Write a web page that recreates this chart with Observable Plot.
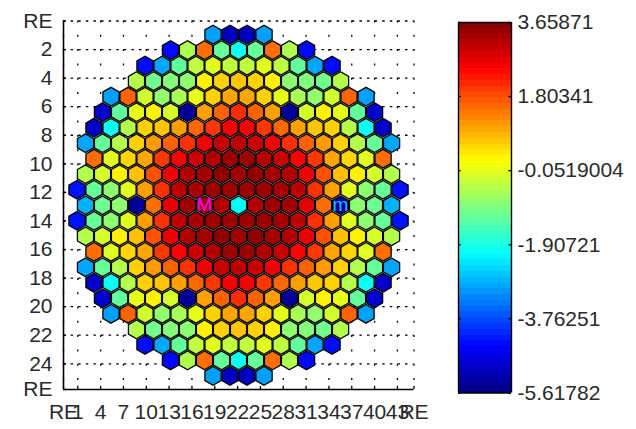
<!DOCTYPE html>
<html>
<head>
<meta charset="utf-8">
<script src="https://cdn.jsdelivr.net/npm/d3@7"></script>
<script src="https://cdn.jsdelivr.net/npm/@observablehq/plot@0.6"></script>
<style>
html,body{margin:0;padding:0;background:#fff;width:636px;height:429px;overflow:hidden}
#main,#bar{position:absolute;top:0}
#main{left:0}
#bar{left:440px}
svg{display:block}
</style>
</head>
<body>
<div id="main"></div>
<div id="bar"></div>
<script>
// Hexagon values, top row to bottom row, left to right
const row01 = [-3.0,-5.05,-5.05,-3.0];
const row02 = [-4.4,-0.55,1.5,-1.2,-2.0,-1.2,1.5,-0.55,-4.4];
const row03 = [-4.35,-2.95,-1.25,-0.4,-0.1,-0.4,-0.4,-0.1,-0.4,-1.25,-2.95,-4.35];
const row04 = [-0.5,-1.1,-0.95,-0.85,0.3,0.6,0.7,0.6,0.3,-0.85,-0.95,-1.1,-0.5];
const row05 = [-3.0,1.6,-0.25,-0.8,-0.6,-0.05,0.6,1.0,1.0,0.6,-0.05,-0.6,-0.8,-0.25,1.6,-3.0];
const row06 = [-4.9,-1.25,-0.05,0.3,-0.2,-5.4,1.05,1.6,2.1,1.6,1.05,-5.4,-0.2,0.3,-0.05,-1.25,-4.9];
const row07 = [-4.95,-2.05,-0.5,0.6,0.7,1.05,1.55,2.0,2.55,2.55,2.0,1.55,1.05,0.7,0.6,-0.5,-2.05,-4.95];
const row08 = [-2.95,-1.2,-0.5,0.6,1.1,1.6,2.05,2.6,3.0,3.1,3.0,2.6,2.05,1.6,1.1,0.6,-0.5,-1.2,-2.95];
const row09 = [1.5,-0.1,0.55,1.0,2.0,2.5,3.0,3.2,3.4,3.4,3.2,3.0,2.5,2.0,1.0,0.55,-0.1,1.5];
const row10 = [-0.5,-0.2,0.3,0.75,1.75,2.65,3.2,3.3,3.5,3.35,3.5,3.3,3.2,2.65,1.75,0.75,0.3,-0.2,-0.5];
const row11 = [-4.3,-1.2,-0.85,-0.1,1.05,2.05,3.1,3.3,3.4,3.4,3.4,3.4,3.3,3.1,2.05,1.05,-0.1,-0.85,-1.2,-4.3];
const row12 = [-2.85,-1.15,-0.85,-5.4,1.5,2.75,3.35,3.4,3.2,-2.1,3.2,3.4,3.35,2.75,1.5,-5.4,-0.85,-1.15,-2.85];
const row13 = [-4.3,-1.2,-0.85,-0.1,1.05,2.05,3.1,3.3,3.4,3.4,3.4,3.4,3.3,3.1,2.05,1.05,-0.1,-0.85,-1.2,-4.3];
const row14 = [-0.5,-0.2,0.3,0.75,1.75,2.65,3.2,3.3,3.5,3.35,3.5,3.3,3.2,2.65,1.75,0.75,0.3,-0.2,-0.5];
const row15 = [1.5,-0.1,0.55,1.0,2.0,2.5,3.0,3.2,3.4,3.4,3.2,3.0,2.5,2.0,1.0,0.55,-0.1,1.5];
const row16 = [-2.95,-1.2,-0.5,0.6,1.1,1.6,2.05,2.6,3.0,3.1,3.0,2.6,2.05,1.6,1.1,0.6,-0.5,-1.2,-2.95];
const row17 = [-4.95,-2.05,-0.5,0.6,0.7,1.05,1.55,2.0,2.55,2.55,2.0,1.55,1.05,0.7,0.6,-0.5,-2.05,-4.95];
const row18 = [-4.9,-1.25,-0.05,0.3,-0.2,-5.4,1.05,1.6,2.1,1.6,1.05,-5.4,-0.2,0.3,-0.05,-1.25,-4.9];
const row19 = [-3.0,1.6,-0.25,-0.8,-0.6,-0.05,0.6,1.0,1.0,0.6,-0.05,-0.6,-0.8,-0.25,1.6,-3.0];
const row20 = [-0.5,-1.1,-0.95,-0.85,0.3,0.6,0.7,0.6,0.3,-0.85,-0.95,-1.1,-0.5];
const row21 = [-4.35,-2.95,-1.25,-0.4,-0.1,-0.4,-0.4,-0.1,-0.4,-1.25,-2.95,-4.35];
const row22 = [-4.4,-0.55,1.5,-1.2,-2.0,-1.2,1.5,-0.55,-4.4];
const row23 = [-3.0,-5.05,-5.05,-3.0];
const rows = [row01,row02,row03,row04,row05,row06,row07,row08,row09,row10,row11,row12,
              row13,row14,row15,row16,row17,row18,row19,row20,row21,row22,row23];

// Axis tick values and labels
const xEdgeLeft = -0.88, xEdgeRight = 45.18;
const yEdgeTop = 0, yEdgeBottom = 25.8;
const xTickValues = [xEdgeLeft,1,4,7,10,13,16,19,22,25,28,31,34,37,40,43,xEdgeRight];
const yTickValues = [yEdgeTop,2,4,6,8,10,12,14,16,18,20,22,24,yEdgeBottom];
const edgeLabel = "RE";

// Where the hexagon lattice sits in axis units
const latticeCenterX = 22.12, latticeStepX = 2.234;
const latticeCenterY = 12.9, latticeStepY = 1.086;

// Colour bar
const barMin = -5.61782, barMax = 3.65871;
const barTicks = [3.65871,1.80341,-0.0519004,-1.90721,-3.76251,-5.61782];
const barLabels = ["3.65871","1.80341","-0.0519004","-1.90721","-3.76251","-5.61782"];
const jetPositions = [0,0.125,0.375,0.625,0.875,1];
const jetColors = ["#000080","#0000ff","#00ffff","#ffff00","#ff0000","#800000"];
const jetLevels = 64;

// Markers
const markers = [
  {label:"M", col:-2, color:"#ff00ff"},
  {label:"m", col:6, color:"#00c8ff"}
];

const cells = rows.flatMap((vals,i)=>vals.map((v,j)=>({
  x: latticeCenterX + latticeStepX*(j-(vals.length-1)/2),
  y: latticeCenterY + latticeStepY*(i-11),
  v
})));
const colorScale = {
  type:"linear",
  domain: jetPositions.map(p=>barMin+(barMax-barMin)*p),
  range: jetColors,
  interpolate:"rgb",
  clamp:true
};
const family = "'Liberation Sans',Arial,sans-serif";
const textStyle = {fontFamily:family,fontSize:"21px",color:"#2a2a2a",background:"transparent"};
const axisInk = "#000";

const main = Plot.plot({
  width:636, height:429,
  marginLeft:63, marginRight:222.5, marginTop:20.5, marginBottom:40,
  style:textStyle,
  x:{domain:[xEdgeLeft,xEdgeRight]},
  y:{domain:[yEdgeTop,yEdgeBottom],reverse:true},
  color:colorScale,
  marks:[
    Plot.gridX(xTickValues,{stroke:"#000",strokeOpacity:1,strokeWidth:1.3,strokeDasharray:"2,12.3"}),
    Plot.gridY(yTickValues.slice(0,-1),{stroke:"#000",strokeOpacity:1,strokeWidth:1.3,strokeDasharray:"2.5,5.1"}),
    Plot.hexagon(cells,{x:"x",y:"y",fill:"v",r:8.1,stroke:"#000",strokeWidth:1.3}),
    Plot.text(markers,{x:d=>latticeCenterX+latticeStepX*d.col,y:latticeCenterY,text:"label",fill:"color",fontSize:19,fontFamily:family}),
    Plot.ruleX([xEdgeLeft],{stroke:axisInk,strokeWidth:1.6}),
    Plot.ruleY([yEdgeBottom],{stroke:axisInk,strokeWidth:1.6}),
    Plot.ruleX(xTickValues,{y1:yEdgeBottom,y2:yEdgeBottom-0.22,stroke:axisInk,strokeWidth:1.3}),
    Plot.ruleY(yTickValues,{x1:xEdgeLeft,x2:xEdgeLeft+0.4,stroke:axisInk,strokeWidth:1.3}),
    Plot.axisX(xTickValues,{anchor:"bottom",tickSize:0,tickPadding:15,label:null,
      tickFormat:d=>(d===xEdgeLeft||d===xEdgeRight)?edgeLabel:String(d)}),
    Plot.axisY(yTickValues,{anchor:"left",tickSize:0,tickPadding:11,label:null,
      tickFormat:d=>(d===yEdgeTop||d===yEdgeBottom)?edgeLabel:String(d)})
  ]
});
document.getElementById("main").append(main);

const step = (barMax-barMin)/jetLevels;
const levels = d3.range(jetLevels).map(i=>({y1:barMin+i*step,y2:barMin+(i+1)*step,v:barMin+(i+0.5)*step}));
const labelOf = new Map(barTicks.map((t,i)=>[t,barLabels[i]]));
const bar = Plot.plot({
  width:196, height:429,
  marginLeft:18, marginRight:125, marginTop:22, marginBottom:36.5,
  style:textStyle,
  x:{domain:[0,1],axis:null},
  y:{domain:[barMin,barMax]},
  color:colorScale,
  marks:[
    Plot.rect(levels,{x1:0,x2:1,y1:"y1",y2:"y2",fill:"v",shapeRendering:"crispEdges"}),
    Plot.ruleX([0,1],{stroke:"#000",strokeWidth:1.4}),
    Plot.ruleY([barMin,barMax],{stroke:"#000",strokeWidth:1.4}),
    Plot.ruleY(barTicks,{x1:0,x2:0.05,stroke:"#000",strokeWidth:1.3}),
    Plot.ruleY(barTicks,{x1:0.95,x2:1,stroke:"#000",strokeWidth:1.3}),
    Plot.axisY(barTicks,{anchor:"right",tickSize:0,tickPadding:6,label:null,tickFormat:d=>labelOf.get(d)})
  ]
});
document.getElementById("bar").append(bar);
</script>
</body>
</html>
